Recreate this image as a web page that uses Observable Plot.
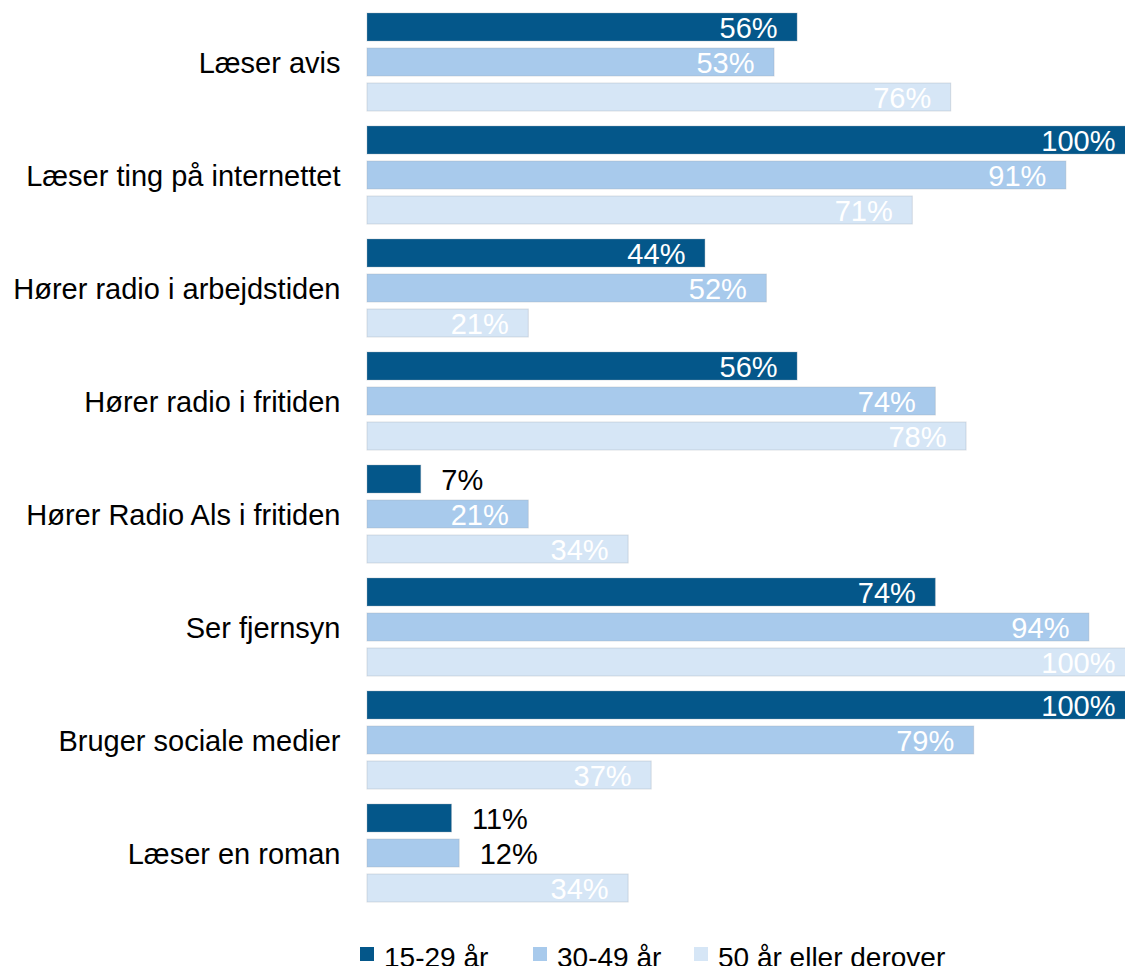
<!DOCTYPE html>
<html>
<head>
<meta charset="utf-8">
<script src="https://cdn.jsdelivr.net/npm/d3@7"></script>
<script src="https://cdn.jsdelivr.net/npm/@observablehq/plot@0.6"></script>
<style>
  html, body { margin: 0; padding: 0; background: #fff; overflow: hidden; }
  #wrap { position: relative; width: 1125px; height: 966px; font-family: "Liberation Sans", Arial, sans-serif; }
  #chart svg { display: block; }
  #chart g[aria-label="fy-axis"] text, #chart g[aria-label="fy-axis tick label"] text { translate: 0px 2px; }
  .leg { position: absolute; top: 941px; height: 34px; line-height: 34px; font-size: 28px; color: #000; white-space: nowrap; }
  .sw { position: absolute; top: 6px; left: 0; width: 14px; height: 14px; }
  .lt { position: absolute; left: 24px; top: 0; }
</style>
</head>
<body>
<div id="wrap">
  <div id="chart"></div>
  <div id="legend"></div>
</div>
<script>
const categories = [
  "Læser avis",
  "Læser ting på internettet",
  "Hører radio i arbejdstiden",
  "Hører radio i fritiden",
  "Hører Radio Als i fritiden",
  "Ser fjernsyn",
  "Bruger sociale medier",
  "Læser en roman"
];
const seriesNames = ["15-29 år", "30-49 år", "50 år eller derover"];
const values1529 = [56, 100, 44, 56, 7, 74, 100, 11];
const values3049 = [53, 91, 52, 74, 21, 94, 79, 12];
const values50 = [76, 71, 21, 78, 34, 100, 37, 34];
const colors = ["#04578A", "#A8CAEC", "#D6E6F6"];

const seriesValues = [values1529, values3049, values50];
const table = [];
categories.forEach((c, i) => {
  seriesNames.forEach((s, j) => {
    table.push({category: c, series: s, value: seriesValues[j][i]});
  });
});

const inside = d => d.value >= 15;

const chart = Plot.plot({
  width: 1125,
  height: 915,
  marginLeft: 367,
  marginRight: -10,
  marginTop: 2,
  marginBottom: 3,
  style: {fontFamily: "'Liberation Sans', Arial, sans-serif", fontSize: "29px", color: "#000", background: "#fff"},
  facet: {data: table, y: "category"},
  fy: {domain: categories, padding: 0, axis: "left", label: null, tickSize: 0, tickPadding: 27},
  y: {domain: seriesNames, padding: 0.21, axis: null},
  x: {domain: [0, 100], axis: null},
  color: {domain: seriesNames, range: colors},
  marks: [
    Plot.barX(table, {x: "value", y: "series", fill: "series", stroke: "#9aa7b4", strokeOpacity: 0.35, strokeWidth: 1}),
    Plot.text(table, {filter: inside, x: "value", y: "series", text: d => d.value + "%", textAnchor: "end", dx: -20, dy: 1, fill: "#fff", fontSize: 29}),
    Plot.text(table, {filter: d => !inside(d), x: "value", y: "series", text: d => d.value + "%", textAnchor: "start", dx: 20, dy: 1, fill: "#000", fontSize: 29})
  ]
});
document.getElementById("chart").appendChild(chart);

const legendLefts = [360, 533, 694];
const legend = document.getElementById("legend");
seriesNames.forEach((s, i) => {
  const item = document.createElement("div");
  item.className = "leg";
  item.style.left = legendLefts[i] + "px";
  const sw = document.createElement("span");
  sw.className = "sw";
  sw.style.background = colors[i];
  const t = document.createElement("span");
  t.className = "lt";
  t.textContent = s;
  item.appendChild(sw);
  item.appendChild(t);
  legend.appendChild(item);
});
</script>
</body>
</html>
